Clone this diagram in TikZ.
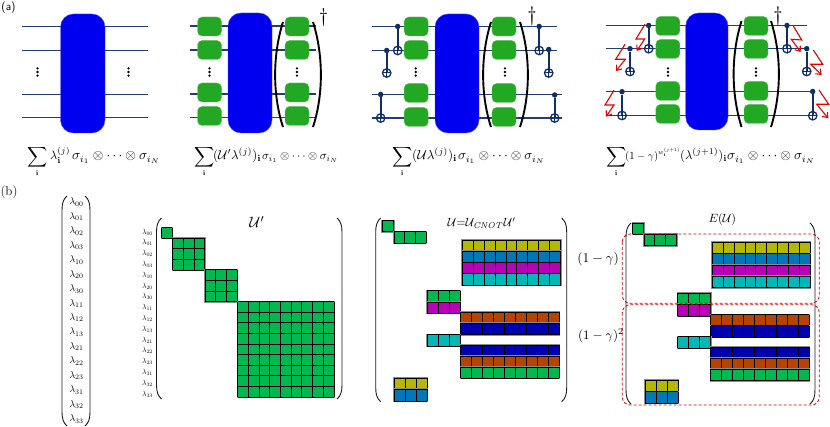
\documentclass[tikz,border=0pt]{standalone}
\usepackage{amsmath,amssymb}
\usetikzlibrary{arrows.meta}
\definecolor{wirec}{HTML}{1F3F73}
\definecolor{cnotc}{HTML}{0F2F66}
\definecolor{blueu}{HTML}{0000F0}
\definecolor{gateg}{HTML}{22A822}
\definecolor{colG}{HTML}{00B84E}
\definecolor{colY}{HTML}{B5B800}
\definecolor{colB}{HTML}{0077B8}
\definecolor{colM}{HTML}{B800B8}
\definecolor{colC}{HTML}{00B8B8}
\definecolor{colO}{HTML}{B84200}
\definecolor{colD}{HTML}{0000B0}
\tikzset{
  wire/.style={draw=wirec,line width=1.3pt},
  ublock/.style={fill=blueu,draw=blueu!70!white,line width=.4pt,rounded corners=13pt},
  gate/.style={fill=gateg,draw=gateg!70!white,line width=.3pt,rounded corners=4.5pt,minimum width=24pt,minimum height=19pt,inner sep=0pt},
  bigparen/.style={draw=black,line width=1.9pt},
  thinparen/.style={draw=black!90,line width=.9pt},
  cnotline/.style={draw=cnotc,line width=1.6pt},
  ctrl/.style={circle,fill=cnotc,minimum size=5.5pt,inner sep=0pt},
  targ/.style={circle,draw=cnotc,line width=1.3pt,minimum size=8.5pt,inner sep=0pt,path picture={\draw[cnotc,line width=1pt] (path picture bounding box.north)--(path picture bounding box.south) (path picture bounding box.west)--(path picture bounding box.east);}},
  bolt/.style={draw=red!90!black,line width=1.1pt,-{Straight Barb[length=4.5pt,width=7pt]}},
  reddash/.style={draw=red!85!black,densely dashed,line width=.8pt,rounded corners=8pt},
  dotc/.style={circle,fill=black,minimum size=2.6pt,inner sep=0pt},
  txt/.style={inner sep=0pt,anchor=base},
  fml/.style={inner sep=0pt,anchor=base west},
  lab/.style={inner sep=0pt,anchor=center},
  gridline/.style={draw=black,line width=.95pt},
}
% dots
\newcommand{\threedots}[3]{\node[dotc] (#3a) at (#1,#2-3.6) {};\node[dotc] (#3b) at (#1,#2) {};\node[dotc] (#3c) at (#1,#2+3.6) {};}
% four wires
\newcommand{\fourwires}[7]{\foreach \yy/\xa/\xb in {#3/#1/#2,#4/#1/#2,#5/#1/#7,#6/#1/#7}{\draw[wire] (\xa,\yy) -- (\xb,\yy);}}
% cnot
\newcommand{\cnot}[4]{\node[ctrl] (c#4) at (#1,#2) {};\node[targ] (t#4) at (#1,#3) {};\draw[cnotline] (c#4) -- (t#4.center);}
% cells: x0 y0 x1 y1 ncol nrow colour
\newcommand{\cellblock}[7]{%
  \fill[black!45] ({#1-1},{#2-1}) rectangle ({#3+1},{#4+1});
  \fill[fill=#7] (#1,#2) rectangle (#3,#4);
  \pgfmathsetmacro{\dxx}{((#3)-(#1))/#5}\pgfmathsetmacro{\dyy}{((#4)-(#2))/#6}
  \foreach \ii in {0,...,#5}{\draw[gridline] ({#1+\ii*\dxx},#2) -- ({#1+\ii*\dxx},#4);}
  \foreach \jj in {0,...,#6}{\draw[gridline] (#1,{#2+\jj*\dyy}) -- (#3,{#2+\jj*\dyy});}
}
\newcommand{\lparen}[3]{\draw[thinparen] (#1+5,#2) .. controls (#1+1.5,#2+3) and (#1,#2+7) .. (#1,#2+14) -- (#1,#3-14) .. controls (#1,#3-7) and (#1+1.5,#3-3) .. (#1+5,#3);}
\newcommand{\rparen}[3]{\draw[thinparen] (#1,#2) .. controls (#1+3.5,#2+3) and (#1+5,#2+7) .. (#1+5,#2+14) -- (#1+5,#3-14) .. controls (#1+5,#3-7) and (#1+3.5,#3-3) .. (#1,#3);}
\newcommand{\sumpart}[1]{\makebox[#1pt][c]{$\displaystyle\mathop{\vcenter{\hbox{\scalebox{1.4}{$\displaystyle\sum$}}}}\limits_{\mathbf{i}}$}}
\newcommand{\fitpart}[2]{\resizebox{#1pt}{!}{$\displaystyle #2$}}
\newcommand{\sigmapart}{\sigma_{i_1}\otimes\cdots\otimes\sigma_{i_N}}
\newcommand{\daggermark}[1]{\scalebox{#1}{$\dagger$}}
\begin{document}
\begin{tikzpicture}[x=1pt,y=-1pt]
\useasboundingbox (0,0) rectangle (830,427);
\node[lab] (labela) at (8.5,8) {\sffamily\fontsize{11.5}{13}\selectfont (a)};
\node[lab] (labelb) at (9,192.5) {\fontsize{13}{15}\selectfont (b)};

% ---- panel 1
\fourwires{22}{148}{26.5}{50.5}{94.5}{117.5}{148}
\fill[ublock] (60.5,14) rectangle (105,133);
\threedots{37.5}{72}{pa}\threedots{128.5}{72}{pb}
\node[fml] (f1) at (27,160) {\sumpart{20}\hspace{3pt}\fitpart{20}{\lambda_{\mathbf{i}}^{(j)}}\hspace{2pt}\fitpart{88}{\sigmapart}};

% ---- panel 2
\fourwires{190}{316}{26}{50}{94}{117.5}{316}
\foreach \yy/\nn in {26.5/a,50/b,92.5/c,116/d}{
  \node[gate] (g2l\nn) at (209.5,\yy) {};
  \node[gate] (g2r\nn) at (297,\yy) {};
}
\fill[ublock] (228,13) rectangle (272,133);
\draw[bigparen] (283,22) .. controls (272.5,55) and (272.5,95) .. (283,127);
\draw[bigparen] (313,22) .. controls (323.5,55) and (323.5,95) .. (313,127);
\threedots{209.5}{72}{pc}\threedots{297}{72}{pd}
\node[txt] (d2) at (323.5,22.5) {\daggermark{2}};
\node[fml] (f2) at (195,160) {\sumpart{18}\fitpart{48}{(\mathcal{U}'\lambda^{(j)})_{\mathbf{i}}}\hspace{1pt}\fitpart{76}{\sigmapart}};

% ---- panel 3
\fourwires{372}{557}{26.5}{50.5}{94.5}{118}{562}
\foreach \yy/\nn in {26.5/a,50/b,93/c,117/d}{
  \node[gate] (g3l\nn) at (416.2,\yy) {};
  \node[gate] (g3r\nn) at (504,\yy) {};
}
\fill[ublock] (435,14) rectangle (479,133);
\draw[bigparen] (491,22) .. controls (480.5,55) and (480.5,95) .. (491,127);
\draw[bigparen] (520,22) .. controls (530.5,55) and (530.5,95) .. (520,127);
\threedots{415.7}{72}{pe}\threedots{505}{72}{pf}
\cnot{397.7}{26.5}{50.5}{ca}\cnot{386.7}{50.5}{73}{cb}\cnot{380.7}{94.5}{118}{cc}
\cnot{539.2}{26.5}{50.5}{cd}\cnot{548.7}{49.5}{73}{ce}\cnot{554.7}{95}{118}{cf}
\node[txt] (d3) at (532,21.5) {\daggermark{2.1}};
\node[fml] (f3) at (392,160) {\sumpart{20}\fitpart{45}{(\mathcal{U}\lambda^{(j)})_{\mathbf{i}}}\hspace{1pt}\fitpart{87}{\sigmapart}};

% ---- panel 4
\fourwires{605.7}{807}{25.5}{48.7}{91.7}{115.7}{813}
\foreach \yy/\nn in {26/a,49/b,91/c,114/d}{
  \node[gate] (g4l\nn) at (667.8,\yy) {};
  \node[gate] (g4r\nn) at (756,\yy) {};
}
\fill[ublock] (685.7,13) rectangle (728,130);
\draw[bigparen] (741.5,21) .. controls (731,55) and (731,93) .. (741.5,127);
\draw[bigparen] (771,21) .. controls (781.5,55) and (781.5,93) .. (771,127);
\threedots{668}{72}{pg}\threedots{756}{72}{ph}
\cnot{648.7}{25.5}{48.7}{da}\cnot{630}{48.7}{71.5}{db}\cnot{622}{91.7}{115.5}{dc}
\cnot{787}{25.5}{48.7}{dd}\cnot{806.7}{48.7}{71.5}{de}\cnot{812.7}{91.5}{115.7}{df}
\draw[bolt] (645,24.3)--(636,39)--(644.7,39)--(636.7,51);
\draw[bolt] (625,44.3)--(615.7,59.3)--(625.3,59.3)--(616,71);
\draw[bolt] (614,90.3)--(605,105)--(614,105)--(606,116.7);
\draw[bolt] (792.7,25)--(801.7,40)--(791.3,39.3)--(800.7,52);
\draw[bolt] (813.3,50)--(822.7,64.3)--(810.7,64.3)--(821.7,75);
\draw[bolt] (819,90)--(828.7,104.3)--(816.7,104.3)--(828.3,118.3);
\node[txt] (d4) at (778,21.5) {\daggermark{2.1}};
\node[fml] (f4) at (607,160) {\sumpart{18}\fitpart{33}{(1-\gamma)}\raisebox{5.5pt}{\fitpart{22}{\scriptstyle w_{\mathbf{i}}^{(j+1)}}}\fitpart{47}{(\lambda^{(j+1)})_{\mathbf{i}}}\fitpart{88}{\sigmapart}};

% ---- vector
\lparen{62}{196}{426}
\rparen{85}{196}{426}
\foreach \nn [count=\k from 0] in {00,01,02,03,10,20,30,11,12,13,21,22,23,31,32,33}{
  \node[lab] (v\nn) at (76.5,{202+\k*14.47}) {\fontsize{10}{12}\selectfont$\lambda_{\nn}$};
  \node[lab] (m\nn) at (147.5,{232+\k*10.8}) {\scalebox{.75}{$\lambda_{\nn}$}};
}

% ---- U'
\lparen{156.5}{218}{399}
\rparen{337}{218}{399}
\node[lab] (ulabel) at (257,222) {\scalebox{1.5}{$\mathcal{U}'$}};
\cellblock{161.7}{227.7}{172.4}{238.4}{1}{1}{colG}
\cellblock{172.7}{238.4}{204.7}{270}{3}{3}{colG}
\cellblock{205.3}{269.8}{237.2}{301.8}{3}{3}{colG}
\cellblock{237.7}{301.8}{334}{397}{9}{9}{colG}

% ---- U
\lparen{375.7}{218}{401.7}
\rparen{561.7}{218}{401.7}
\node[lab] (uclabel) at (481.7,223) {\scalebox{1.2}{$\mathcal{U}{=}\mathcal{U}_{\mathit{CNOT}}\mathcal{U}'$}};
\cellblock{382.3}{220.7}{393.7}{231.7}{1}{1}{colG}
\cellblock{394}{231.7}{426.3}{243}{3}{1}{colG}
\cellblock{462.3}{240.3}{560.7}{251.5}{9}{1}{colY}
\cellblock{462.3}{251.5}{560.7}{262.6}{9}{1}{colB}
\cellblock{462.3}{262.6}{560.7}{273.8}{9}{1}{colM}
\cellblock{462.3}{273.8}{560.7}{285}{9}{1}{colC}
\cellblock{427.3}{290.7}{460.3}{302}{3}{1}{colG}
\cellblock{427.3}{302}{460.3}{313.3}{3}{1}{colM}
\cellblock{460.7}{312.3}{559}{323.5}{9}{1}{colO}
\cellblock{460.7}{323.5}{559}{334.7}{9}{1}{colD}
\cellblock{427.3}{334.7}{460.3}{346}{3}{1}{colC}
\cellblock{460.7}{345}{559}{356.1}{9}{1}{colD}
\cellblock{460.7}{356.1}{559}{367.2}{9}{1}{colO}
\cellblock{460.7}{367.2}{559}{378.3}{9}{1}{colG}
\cellblock{394.3}{378}{427}{389.5}{3}{1}{colY}
\cellblock{394.3}{389.5}{427}{401}{3}{1}{colB}

% ---- E(U)
\lparen{626}{223}{404}
\rparen{810}{223}{404}
\node[lab] (elabel) at (722.3,220) {\scalebox{1.2}{$E(\mathcal{U})$}};
\cellblock{632.7}{223.3}{643.7}{234.3}{1}{1}{colG}
\cellblock{644}{234.3}{676.7}{245.7}{3}{1}{colG}
\cellblock{712.3}{242.3}{810.3}{253.6}{9}{1}{colY}
\cellblock{712.3}{253.6}{810.3}{265}{9}{1}{colB}
\cellblock{712.3}{265}{810.3}{276.3}{9}{1}{colM}
\cellblock{712.3}{276.3}{810.3}{287.7}{9}{1}{colC}
\cellblock{677.7}{293}{710.7}{304.5}{3}{1}{colG}
\cellblock{677.7}{304.5}{710.7}{316}{3}{1}{colM}
\cellblock{710.7}{314.7}{809}{325.8}{9}{1}{colO}
\cellblock{710.7}{325.8}{809}{337}{9}{1}{colD}
\cellblock{677.7}{336.7}{710.7}{348.3}{3}{1}{colC}
\cellblock{710.7}{347}{809}{358.2}{9}{1}{colD}
\cellblock{710.7}{358.2}{809}{369.4}{9}{1}{colO}
\cellblock{710.7}{369.4}{809}{380.7}{9}{1}{colG}
\cellblock{645}{380}{678}{391.6}{3}{1}{colY}
\cellblock{645}{391.6}{678}{403.3}{3}{1}{colB}
\draw[reddash] (622.3,234) rectangle (819.3,303.3);
\draw[reddash] (622.3,304.7) rectangle (819.3,405);
\node[lab] (g1) at (598,259) {\scalebox{1.35}{$(1-\gamma)$}};
\node[lab] (g2) at (601,336) {\scalebox{1.3}{$(1-\gamma)^2$}};
\end{tikzpicture}
\end{document}
